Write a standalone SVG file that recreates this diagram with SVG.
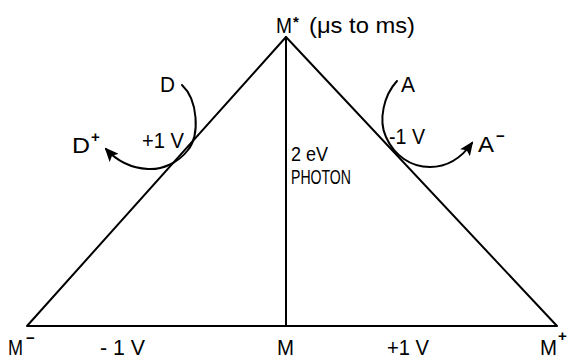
<svg xmlns="http://www.w3.org/2000/svg" width="574" height="360" viewBox="0 0 574 360">
<defs>
<style>
.ln{fill:none;stroke:#000;stroke-width:2;stroke-linecap:round;stroke-linejoin:round}
.t{font-family:"Liberation Sans",Arial,sans-serif;font-size:22px;fill:#000}
.p{font-family:"Liberation Sans",Arial,sans-serif;font-size:20px;fill:#000}
.s{font-family:"Liberation Sans",Arial,sans-serif;font-size:15px;font-weight:bold;fill:#000}
</style>
<marker id="ah" viewBox="0 0 14 12" refX="12" refY="6" markerWidth="14" markerHeight="12" markerUnits="userSpaceOnUse" orient="auto">
<path d="M0,0 L14,6 L0,12 L3,6 z" fill="#000"/>
</marker>
</defs>
<rect width="574" height="360" fill="#fff"/>
<g id="connectors">
<path class="ln" d="M27,326 L286,37 L557,326 Z"/>
<path class="ln" d="M286,37 L286,326"/>
<path class="ln" marker-end="url(#ah)" d="M182,85 C198,100 200,135 188,150 C178,163 162,170 148,169 C130,168 116,160 106,149"/>
<path class="ln" marker-end="url(#ah)" d="M397,81 C384,95 378,120 386,137 C394,155 410,167 430,167 C448,167 462,157 472,143"/>
</g>
<g id="node-Mstar">
<text class="t" x="276" y="33" textLength="16" lengthAdjust="spacingAndGlyphs">M</text>
<text class="s" x="293" y="27" font-size="18">*</text>
<text class="t" x="309" y="33" textLength="106" lengthAdjust="spacingAndGlyphs">(μs  to ms)</text>
</g>
<g id="node-D">
<text class="t" x="160" y="92" textLength="15" lengthAdjust="spacingAndGlyphs">D</text>
</g>
<g id="node-Dplus">
<text class="t" x="72" y="153" textLength="18" lengthAdjust="spacingAndGlyphs">D</text>
<text class="s" x="91" y="142">+</text>
</g>
<g id="label-plus1V">
<text class="t" x="142" y="148" textLength="42" lengthAdjust="spacingAndGlyphs">+1 V</text>
</g>
<g id="node-A">
<text class="t" x="401" y="92" textLength="14" lengthAdjust="spacingAndGlyphs">A</text>
</g>
<g id="node-Aminus">
<text class="t" x="478" y="152" textLength="16" lengthAdjust="spacingAndGlyphs">A</text>
<text class="s" x="496" y="141">−</text>
</g>
<g id="label-minus1V">
<text class="t" x="389" y="144" textLength="36" lengthAdjust="spacingAndGlyphs">-1 V</text>
</g>
<g id="label-photon">
<text class="p" x="291" y="161" textLength="37" lengthAdjust="spacingAndGlyphs">2 eV</text>
<text class="p" x="291" y="184" textLength="60" lengthAdjust="spacingAndGlyphs">PHOTON</text>
</g>
<g id="node-Mminus">
<text class="t" x="8" y="355" textLength="15" lengthAdjust="spacingAndGlyphs">M</text>
<text class="s" x="26" y="343">−</text>
</g>
<g id="label-bottom-minus1V">
<text class="t" x="100" y="355" textLength="45" lengthAdjust="spacingAndGlyphs">- 1 V</text>
</g>
<g id="node-M">
<text class="t" x="277" y="355" textLength="17" lengthAdjust="spacingAndGlyphs">M</text>
</g>
<g id="label-bottom-plus1V">
<text class="t" x="387" y="355" textLength="42" lengthAdjust="spacingAndGlyphs">+1 V</text>
</g>
<g id="node-Mplus">
<text class="t" x="540" y="355" textLength="17" lengthAdjust="spacingAndGlyphs">M</text>
<text class="s" x="558" y="341">+</text>
</g>
</svg>
